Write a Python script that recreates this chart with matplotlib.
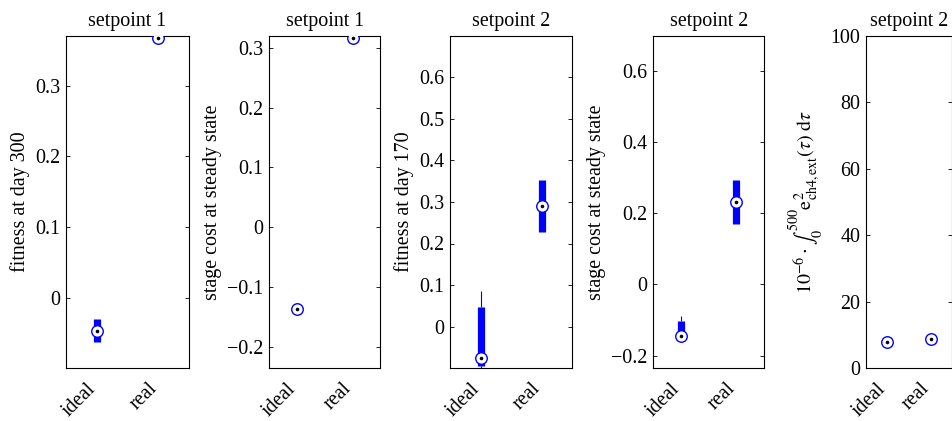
import matplotlib
matplotlib.use("Agg")
import matplotlib.pyplot as plt
from matplotlib.transforms import ScaledTranslation

plt.rcParams['font.family'] = ['Liberation Serif', 'DejaVu Serif']
plt.rcParams['mathtext.fontset'] = 'stix'
plt.rcParams['font.size'] = 14.4

groups = ['ideal', 'real']
positions = [1, 2]

titles = ['setpoint 1', 'setpoint 1', 'setpoint 2', 'setpoint 2', 'setpoint 2']
ylabels = ['fitness at day 300', 'stage cost at steady state', 'fitness at day 170',
           'stage cost at steady state',
           r'$10^{-6}\cdot\int_0^{500}\mathrm{e}^{2}_{\mathrm{ch4,ext}}(\tau)\;\mathrm{d}\tau$']

# box statistics per panel: [ideal, real], each (whislo, q1, med, q3, whishi)
p1_stats = [(-0.063, -0.063, -0.0467, -0.0306, -0.0306), (0.3675, 0.3675, 0.3675, 0.3675, 0.3675)]
p2_stats = [(-0.137, -0.137, -0.137, -0.137, -0.137), (0.317, 0.317, 0.317, 0.317, 0.317)]
p3_stats = [(-0.105, -0.094, -0.0746, 0.0467, 0.0866), (0.2286, 0.2286, 0.2905, 0.353, 0.353)]
p4_stats = [(-0.150, -0.150, -0.145, -0.1035, -0.089), (0.169, 0.169, 0.2305, 0.293, 0.293)]
p5_stats = [(7.9, 7.9, 7.9, 7.9, 7.9), (8.7, 8.7, 8.7, 8.7, 8.7)]
all_stats = [p1_stats, p2_stats, p3_stats, p4_stats, p5_stats]

ylims = [(-0.0994, 0.370), (-0.2353, 0.3196), (-0.0994, 0.699), (-0.2346, 0.698), (0, 100)]
yticks = [[0, 0.1, 0.2, 0.3], [-0.2, -0.1, 0, 0.1, 0.2, 0.3],
          [0, 0.1, 0.2, 0.3, 0.4, 0.5, 0.6], [-0.2, 0, 0.2, 0.4, 0.6],
          [0, 20, 40, 60, 80, 100]]
ytlabels = [['0', '0.1', '0.2', '0.3'], ['\u22120.2', '\u22120.1', '0', '0.1', '0.2', '0.3'],
            ['0', '0.1', '0.2', '0.3', '0.4', '0.5', '0.6'], ['\u22120.2', '0', '0.2', '0.4', '0.6'],
            ['0', '20', '40', '60', '80', '100']]

W, H = 953, 421
panels_px = [(66, 189), (269.3, 380.3), (450, 572.3), (653.3, 764), (865.7, 952.3)]
top_px, bot_px = 36, 368

fig = plt.figure(figsize=(W / 100, H / 100), dpi=100)
blue = (0, 0, 1)
shift = ScaledTranslation(-4 / 100, 0, fig.dpi_scale_trans)
for k, (l, r) in enumerate(panels_px):
    ax = fig.add_axes([l / W, 1 - bot_px / H, (r - l) / W, (bot_px - top_px) / H])
    for pos, (wlo, q1, med, q3, whi) in zip(positions, all_stats[k]):
        ax.vlines(pos, wlo, q1, color=blue, lw=0.8)
        ax.vlines(pos, q3, whi, color=blue, lw=0.8)
        if q3 > q1:
            ax.vlines(pos, q1, q3, color=blue, lw=5.2, capstyle='butt')
        ax.plot(pos, med, marker='o', ms=8.3, mfc='white', mec=blue, mew=1.0, ls='none', zorder=4)
        ax.plot(pos, med, marker='o', ms=2.6, mfc='black', mec='black', mew=0, ls='none', zorder=5)
    ax.set_xlim(0.5, 2.5)
    ax.set_ylim(*ylims[k])
    ax.set_yticks(yticks[k], ytlabels[k])
    ax.set_xticks(positions, groups, rotation=45, ha='right', va='center', rotation_mode='anchor')
    ax.tick_params(axis='y', direction='in', length=3, width=0.6, right=True, pad=4)
    ax.tick_params(axis='x', length=0, pad=13)
    for lab in ax.get_xticklabels():
        lab.set_transform(lab.get_transform() + shift)
    ax.set_title(titles[k], fontsize=14.4, pad=7)
    ax.set_ylabel(ylabels[k], labelpad=4)
    for s in ax.spines.values():
        s.set_linewidth(0.8)

fig.savefig('out.png', dpi=100)
